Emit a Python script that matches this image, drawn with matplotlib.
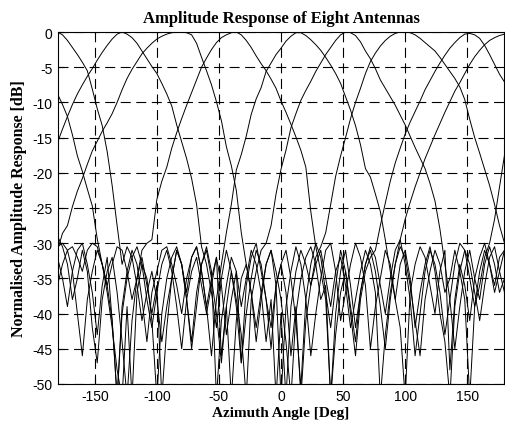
import numpy as np
import matplotlib
matplotlib.use("Agg")
import matplotlib.pyplot as plt

plt.rc("axes", unicode_minus=False)

# azimuth grid (deg)
angles = np.arange(-180, 181, 4)

# normalised responses in dB, one list per antenna
ant1 = [-15.7, -13.8, -12.0, -10.3, -8.8, -7.5, -6.3, -5.2, -4.0, -2.9,
        -1.9, -1.0, -0.3, 0.0, -0.3, -0.8, -1.6, -2.7, -3.8, -4.9,
        -5.9, -7.3, -8.8, -10.5, -13.2, -15.6, -18.0, -20.8, -24.5, -30.5,
        -33, -37, -42, -35, -31, -34, -39, -47, -36, -32,
        -30, -34, -38, -45, -36, -33, -31, -35, -41, -50.5,
        -38, -33, -30, -32, -37, -42, -36, -31, -34, -39,
        -44, -37, -33, -30.5, -32, -36, -40, -35, -31, -29.5,
        -33, -38, -46, -40, -34, -31, -33, -37, -43, -38,
        -33, -30, -31, -35, -39, -36, -32, -30, -26.6, -22,
        -17.5]
ant2 = [-31, -28.6, -27.5, -24.8, -22.6, -20.8, -18.8, -16.9, -15.5, -14.1,
        -12.9, -11.6, -10.0, -8.2, -6.6, -5.3, -4.2, -3.1, -2.3, -1.6,
        -1.0, -0.6, -0.3, -0.1, 0.0, 0.0, -0.1, -0.4, -1.6, -3.6,
        -5.5, -7.5, -9.9, -12.6, -16.3, -19.0, -22.5, -28.5, -33, -37,
        -44, -38, -33, -31, -36, -52, -39, -34, -30.5, -33,
        -38, -46, -40, -35, -31, -30, -34, -41, -37, -33,
        -30, -32, -36, -45, -39, -35, -31, -33, -38, -42,
        -52, -37, -33, -30.5, -32, -36, -40, -34, -31, -48,
        -38, -33, -36, -41, -35, -32, -30, -33, -37, -34,
        -31]
ant3 = [-30.5, -30, -31, -30.5, -32, -34, -31, -30, -30.5, -33,
        -36, -33, -30.5, -31, -34, -38, -35, -31, -30, -29.5,
        -23.8, -21.2, -19.2, -16.5, -14.3, -12.3, -10.4, -8.6, -6.8, -5.0,
        -3.7, -2.5, -1.5, -0.8, -0.4, -0.1, 0.0, -0.4, -1.2, -2.2,
        -3.4, -4.5, -5.5, -6.7, -8.0, -9.8, -11.4, -13.1, -14.9, -16.8,
        -19.2, -25.5, -30.5, -34, -38, -52, -40, -34, -31, -36,
        -42, -37, -33, -31, -34, -39, -45, -38, -33, -30.5,
        -32, -36, -41, -46, -38, -34, -31, -33, -37, -35,
        -31, -34, -38, -52, -39, -34, -31, -33, -36, -32,
        -31]
ant4 = [-32, -35, -39, -34, -31, -30, -33, -37, -43, -36,
        -32, -41, -52, -39, -34, -31, -33, -38, -44, -37,
        -34, -31, -30.5, -33, -36, -40, -35, -32, -30.5, -34,
        -39, -46, -38, -33, -28.5, -24.5, -19.6, -17.4, -14.8, -11.7,
        -9.5, -7.9, -5.6, -4.4, -3.2, -2.3, -1.3, -0.6, -0.1, -0.1,
        -0.5, -1.1, -1.8, -2.6, -3.6, -4.7, -5.9, -7.3, -9.2, -11.1,
        -13.3, -16.0, -19.4, -20.6, -23.0, -25.5, -29.5, -34, -38, -33,
        -31, -35, -42, -37, -33, -30.5, -34, -40, -44, -52,
        -39, -34, -31, -33, -37, -41, -36, -32, -30.5, -34,
        -37]
ant5 = [-36, -33, -31, -34, -40, -46, -38, -34, -31, -33,
        -37, -42, -48, -52, -39, -52, -37, -33, -35, -41,
        -52, -40, -35, -32, -30.5, -33, -38, -44, -37, -33,
        -31, -35, -40, -47, -39, -34, -38, -43, -52, -38,
        -34, -31, -30, -27.5, -23.0, -19.5, -16.8, -13.6, -11.6, -9.7,
        -8.3, -7.0, -5.6, -4.4, -3.2, -2.2, -1.2, -0.4, 0.0, -0.1,
        -0.5, -1.4, -2.7, -3.8, -5.2, -6.8, -8.0, -9.2, -10.4, -11.8,
        -13.2, -14.8, -16.4, -17.9, -19.4, -21.5, -24.0, -28.0, -33, -38,
        -45, -39, -34, -31, -35, -38, -33, -30.5, -33, -37,
        -35]
ant6 = [-29, -30.5, -33, -38, -35, -31, -34, -42, -47, -38,
        -34, -32, -37, -44, -52, -41, -35, -32, -36, -40,
        -36, -52, -42, -35, -31, -33, -38, -45, -39, -33,
        -30.5, -34, -52, -41, -36, -32, -34, -39, -35, -31,
        -33, -37, -44, -38, -52, -40, -52, -39, -34, -31,
        -33, -36, -32, -30.5, -28.5, -24.5, -20.5, -17.6, -15.0, -12.3,
        -10.0, -8.0, -5.9, -4.2, -3.0, -2.0, -1.2, -0.6, -0.2, 0.0,
        0.0, -0.1, -0.4, -0.9, -1.5, -2.1, -2.7, -3.6, -4.6, -5.6,
        -6.6, -7.8, -9.6, -12.4, -15.0, -17.2, -19.5, -21.8, -24.5, -27.5,
        -30]
ant7 = [-8.8, -10.3, -12.0, -14.6, -17.6, -19.8, -22.3, -24.7, -29.4, -33,
        -36, -41, -52, -40, -35, -32, -30.5, -33, -38, -42,
        -37, -33, -31, -34, -39, -45, -38, -34, -32, -36,
        -40, -36, -32, -46, -39, -52, -41, -35, -33, -37,
        -42, -37, -33, -31, -34, -38, -44, -52, -40, -35,
        -32, -30.5, -33, -38, -36, -52, -43, -37, -34, -40,
        -46, -38, -34, -32, -31, -27.5, -24.3, -21.2, -18.6, -16.5,
        -14.5, -12.8, -11.3, -9.8, -8.2, -6.9, -5.6, -4.4, -3.3, -2.3,
        -1.5, -0.8, -0.3, -0.2, -0.4, -0.9, -1.9, -3.2, -4.6, -6.0,
        -7.1]
ant8 = [0.0, -0.4, -1.2, -2.2, -3.2, -4.3, -5.5, -8.1, -10.9, -13.3,
        -17.0, -21.8, -27.5, -33, -30.5, -32, -36, -41, -37, -34,
        -38, -44, -39, -35, -31, -33, -37, -32, -30.5, -34,
        -39, -35, -32, -36, -43, -38, -34, -47, -40, -35,
        -31, -33, -38, -42, -36, -33, -37, -46, -39, -52,
        -41, -36, -33, -31, -35, -39, -34, -32, -36, -42,
        -38, -34, -31, -33, -37, -52, -43, -37, -33, -29.5,
        -26.6, -24.2, -22.0, -20.0, -18.0, -16.3, -14.6, -13.0, -11.4, -9.9,
        -8.4, -7.2, -5.9, -4.6, -3.5, -2.6, -1.8, -1.2, -0.8, -0.5,
        -0.3]

responses = [ant1, ant2, ant3, ant4, ant5, ant6, ant7, ant8]

fig = plt.figure(figsize=(5.05, 4.27), dpi=100)
ax = fig.add_axes([0.1139, 0.0984, 0.8851, 0.8243])

for r in responses:
    ax.plot(angles, r, color="black", lw=0.7)

ax.set_xlim(-180, 180)
ax.set_ylim(-50, 0)
ax.set_xticks([-150, -100, -50, 0, 50, 100, 150])
ax.set_yticks(np.arange(-50, 1, 5))
ax.grid(True, color="black", linestyle=(0, (9, 5)), lw=0.8)
ax.tick_params(direction="in", length=4, width=0.8, labelsize=10)
for lab in ax.get_xticklabels() + ax.get_yticklabels():
    lab.set_family("Liberation Sans")
for s in ax.spines.values():
    s.set_linewidth(0.8)

ax.set_title("Amplitude Response of Eight Antennas", family="Liberation Serif",
             fontsize=12, fontweight="bold", pad=7)
ax.set_xlabel("Azimuth Angle [Deg]", family="Liberation Serif", fontsize=11,
              fontweight="bold", labelpad=2)
ax.set_ylabel("Normalised Amplitude Response [dB]", family="Liberation Serif",
              fontsize=11.5, fontweight="bold", labelpad=4)

fig.savefig("out.png", dpi=100)
